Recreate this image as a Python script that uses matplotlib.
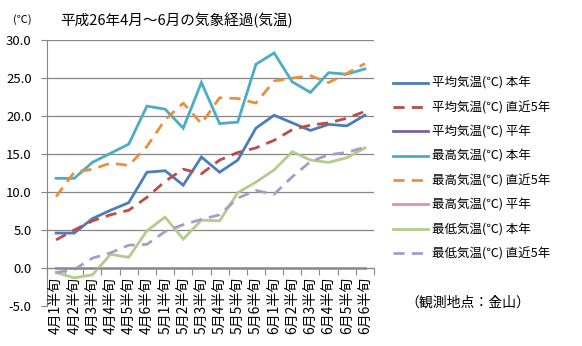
import matplotlib
matplotlib.use("Agg")
import matplotlib.pyplot as plt
import matplotlib.transforms as mtransforms

plt.rcParams['font.family'] = ['Noto Sans CJK JP', 'DejaVu Sans']

categories = ["4月1半旬", "4月2半旬", "4月3半旬", "4月4半旬", "4月5半旬", "4月6半旬",
              "5月1半旬", "5月2半旬", "5月3半旬", "5月4半旬", "5月5半旬", "5月6半旬",
              "6月1半旬", "6月2半旬", "6月3半旬", "6月4半旬", "6月5半旬", "6月6半旬"]

avg_this = [4.6, 4.6, 6.5, 7.6, 8.6, 12.6, 12.8, 10.9, 14.6, 12.6, 14.2, 18.4,
            20.1, 19.1, 18.1, 18.9, 18.7, 20.1]
avg_5yr = [3.7, 5.0, 6.2, 7.0, 7.6, 9.3, 11.4, 13.0, 12.4, 14.2, 15.2, 15.8,
           16.8, 18.2, 18.8, 19.1, 19.7, 20.6]
avg_normal = [0.0] * 18
max_this = [11.8, 11.8, 13.9, 15.1, 16.3, 21.3, 20.9, 18.4, 24.4, 19.0, 19.2, 26.8,
            28.3, 24.5, 23.1, 25.7, 25.5, 26.2]
max_5yr = [9.4, 12.6, 13.0, 13.8, 13.5, 16.0, 19.5, 21.7, 19.0, 22.4, 22.3, 21.7,
           24.6, 25.0, 25.3, 24.4, 25.6, 26.9]
max_normal = [0.0] * 18
min_this = [-0.6, -1.3, -0.9, 1.8, 1.4, 4.9, 6.7, 3.8, 6.3, 6.2, 9.9, 11.3,
            12.9, 15.3, 14.2, 13.9, 14.5, 15.8]
min_5yr = [-0.6, -0.2, 1.3, 2.0, 3.0, 3.1, 4.8, 5.7, 6.4, 7.0, 9.2, 10.2,
           9.7, 12.0, 14.0, 14.9, 15.2, 15.9]

series = [
    ("平均気温(℃) 本年", avg_this, '#4A7DBA', '-'),
    ("平均気温(℃) 直近5年", avg_5yr, '#BE4B48', (0, (4, 2.6))),
    ("平均気温(℃) 平年", avg_normal, '#7E62A1', '-'),
    ("最高気温(℃) 本年", max_this, '#4BACC6', '-'),
    ("最高気温(℃) 直近5年", max_5yr, '#E8903F', (0, (4, 2.6))),
    ("最高気温(℃) 平年", max_normal, '#D39A9A', '-'),
    ("最低気温(℃) 本年", min_this, '#B3CC8C', '-'),
    ("最低気温(℃) 直近5年", min_5yr, '#A99BC8', (0, (4, 2.6))),
]

W, H = 582, 346
fig = plt.figure(figsize=(W / 100, H / 100), dpi=100)
ax = fig.add_axes([47 / W, (H - 306) / H, (374 - 47) / W, (306 - 40) / H])

x = list(range(len(categories)))
handles = []
for name, vals, col, ls in series:
    ln, = ax.plot(x, vals, color=col, linestyle=ls, linewidth=2.0,
                  solid_joinstyle='miter', label=name, clip_on=False)
    handles.append(ln)

ax.set_xlim(-0.5, len(categories) - 0.5)
ax.set_ylim(-5, 30)
ax.set_yticks([-5, 0, 5, 10, 15, 20, 25, 30])
ax.set_yticklabels([f"{v:.1f}" for v in [-5, 0, 5, 10, 15, 20, 25, 30]], fontsize=9.5)
ax.yaxis.grid(True, color='#868686', linewidth=0.9)
ax.set_axisbelow(True)

for s in ['top', 'right']:
    ax.spines[s].set_visible(False)
ax.spines['left'].set_color('#868686')
ax.spines['bottom'].set_position(('data', 0))
ax.spines['bottom'].set_color('#868686')
ax.set_xticks([i - 0.5 for i in range(len(categories) + 1)])
ax.set_xticklabels([])
ax.tick_params(axis='x', direction='out', length=5, color='#868686')
ax.tick_params(axis='y', direction='out', length=4, color='#868686', pad=7)

trans = mtransforms.blended_transform_factory(ax.transData, ax.transAxes)
for i, lab in enumerate(categories):
    ax.text(i, (306 - 277) / 266, lab, rotation=90, ha='center', va='top',
            fontsize=10, transform=trans, clip_on=False)

fig.text(60 / W, 1 - 20 / H, "平成26年4月～6月の気象経過(気温)", fontsize=10.5,
         ha='left', va='center')
fig.text(22 / W, 1 - 20 / H, "(℃)", fontsize=8, ha='center', va='center')
fig.text(468 / W, 1 - 303 / H, "（観測地点：金山）", fontsize=10, ha='center', va='center')

fig.legend(handles=handles, loc='upper left', bbox_to_anchor=(393 / W, 1 - 77 / H),
           frameon=False, fontsize=9, handlelength=2.8, handletextpad=0.3,
           labelspacing=0.9, borderpad=0, borderaxespad=0)

fig.savefig("out.png", dpi=100)
